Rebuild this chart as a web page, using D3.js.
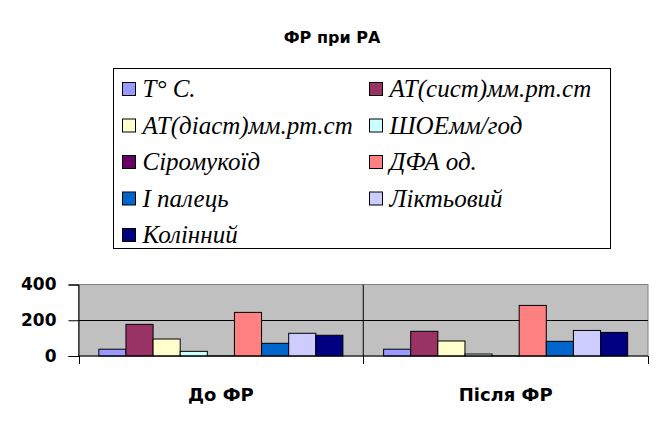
<!DOCTYPE html>
<html><head><meta charset="utf-8">
<script src="https://cdn.jsdelivr.net/npm/d3@7"></script>
<style>body{margin:0;background:#fff}svg{display:block}</style>
</head><body>
<script>
const title = "ФР при РА";
const categories = ["До ФР", "Після ФР"];
const seriesNames = ["T° C.", "АТ(сист)мм.рт.ст", "АТ(діаст)мм.рт.ст", "ШОЕмм/год", "Сіромукоїд", "ДФА од.", "І палець", "Ліктьовий", "Колінний"];
const seriesColors = ["#9999FF", "#993366", "#FFFFCC", "#CCFFFF", "#660066", "#FF8080", "#0066CC", "#CCCCFF", "#000080"];
const valuesBefore = [38, 177, 95, 26, 0.2, 244, 71, 127, 116];
const valuesAfter = [38, 138, 84, 11, 0.2, 283, 82, 143, 132];
const yTicks = [0, 200, 400];

const W = 664, H = 435;
const svg = d3.select("body").append("svg").attr("width", W).attr("height", H);

const plot = {l: 78.5, r: 648, t: 284.5, b: 356};
const x0 = d3.scaleBand().domain(categories).range([plot.l, plot.r]).padding(0);
const x1 = d3.scaleBand().domain(seriesNames).range([0, x0.bandwidth()]).paddingInner(0).paddingOuter(0.75);
const y = d3.scaleLinear().domain([0, 400]).range([plot.b, plot.t]);

// title
svg.append("text").attr("x", 332).attr("y", 43).attr("text-anchor", "middle")
  .attr("font-family", "DejaVu Sans").attr("font-weight", "bold").attr("font-size", 16).text(title);

// legend
const lg = svg.append("g");
lg.append("rect").attr("x", 113.5).attr("y", 68.5).attr("width", 497).attr("height", 180)
  .attr("fill", "#fff").attr("stroke", "#000");
seriesNames.forEach((s, i) => {
  const col = i % 2, row = Math.floor(i / 2);
  const sx = col === 0 ? 122.5 : 369.5, sy = 82.5 + row * 36.5;
  lg.append("rect").attr("x", sx).attr("y", sy).attr("width", 13).attr("height", 13)
    .attr("fill", seriesColors[i]).attr("stroke", "#000");
  lg.append("text").attr("x", sx + 20).attr("y", sy + 14.5)
    .attr("font-family", "Liberation Serif")
    .attr("font-style", "italic").attr("font-size", 25).text(s);
});

// plot background
svg.append("rect").attr("x", plot.l).attr("y", plot.t).attr("width", plot.r - plot.l).attr("height", plot.b - plot.t)
  .attr("fill", "#C0C0C0").attr("stroke", "#808080");

// gridline at 200
svg.append("line").attr("x1", plot.l).attr("x2", plot.r).attr("y1", Math.round(y(200)) + 0.5).attr("y2", Math.round(y(200)) + 0.5)
  .attr("stroke", "#000");

// bars
const data = [valuesBefore, valuesAfter];
categories.forEach((c, ci) => {
  const g = svg.append("g").attr("transform", `translate(${x0(c)},0)`);
  g.selectAll("rect").data(seriesNames).join("rect")
    .attr("x", d => x1(d))
    .attr("y", (d, i) => y(data[ci][i]))
    .attr("width", x1.bandwidth())
    .attr("height", (d, i) => plot.b - y(data[ci][i]))
    .attr("fill", (d, i) => seriesColors[i])
    .attr("stroke", "#000").attr("stroke-width", 1);
});

// middle divider
svg.append("line").attr("x1", x0("Після ФР")).attr("x2", x0("Після ФР")).attr("y1", plot.t).attr("y2", plot.b)
  .attr("stroke", "#000");

// y axis
const yAxis = d3.axisLeft(y).tickValues(yTicks).tickSize(10).tickPadding(12);
const ya = svg.append("g").attr("transform", `translate(${plot.l},0)`).call(yAxis);
ya.select(".domain").attr("stroke", "#000");
ya.selectAll("text").attr("font-family", "DejaVu Sans").attr("font-weight", "bold").attr("font-size", 17).attr("fill", "#000");

// x axis
const xa = svg.append("g").attr("transform", `translate(0,${plot.b})`)
  .call(d3.axisBottom(x0).tickSize(0).tickPadding(32));
xa.selectAll("text").attr("font-family", "DejaVu Sans").attr("font-weight", "bold").attr("font-size", 18).attr("fill", "#000");
xa.select(".domain").remove();
svg.append("line").attr("x1", plot.l).attr("x2", plot.r).attr("y1", plot.b).attr("y2", plot.b).attr("stroke", "#000");
// category boundary ticks
const bounds = [plot.l, x0("Після ФР"), plot.r];
svg.selectAll(".ctick").data(bounds).join("line").attr("class", "ctick")
  .attr("x1", d => Math.round(d) + 0.5).attr("x2", d => Math.round(d) + 0.5)
  .attr("y1", plot.b).attr("y2", plot.b + 8).attr("stroke", "#000");
</script>
</body></html>
